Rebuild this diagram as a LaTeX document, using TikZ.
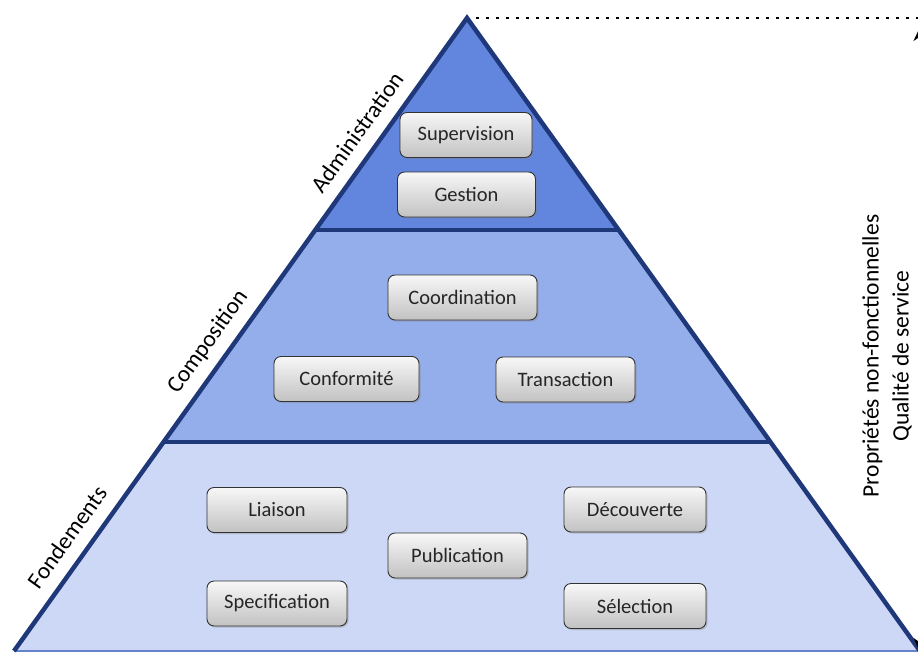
\documentclass[tikz,border=0pt]{standalone}
\usepackage{fontspec}
\setmainfont{Carlito}
\usepackage{xcolor}
\usetikzlibrary{calc,shadows,arrows.meta}

\definecolor{pyredge}{RGB}{31,56,122}
\definecolor{pyrtop}{RGB}{98,133,222}
\definecolor{pyrmid}{RGB}{148,173,235}
\definecolor{pyrbase}{RGB}{204,216,245}
\definecolor{pyrfloor}{RGB}{100,130,205}

\tikzset{
	brick/.style={draw=black!80, line width=0.9pt, rounded corners=7pt, top color=black!3, bottom color=black!24, minimum width=140pt, minimum height=45pt, inner sep=0pt, font=\fontsize{20.5}{24}\selectfont, text=black!85, drop shadow={opacity=0.35, shadow xshift=1.5pt, shadow yshift=-1.5pt}},
	layer/.style={font=\fontsize{23.5}{30}\selectfont, inner sep=0pt},
	side/.style={draw=pyredge, line width=4.5pt}
}

\begin{document}
\begin{tikzpicture}[x=1pt, y=-1pt]
	\useasboundingbox (0,0) rectangle (918,653);
	\coordinate (apex) at (467,18);
	\coordinate (bl) at (14,651);
	\coordinate (br) at (920,651);
	\coordinate (l1) at ($(bl)!0.330!(apex)$);
	\coordinate (r1) at ($(br)!0.330!(apex)$);
	\coordinate (l2) at ($(bl)!0.665!(apex)$);
	\coordinate (r2) at ($(br)!0.665!(apex)$);

	\fill[pyrbase] (bl) -- (br) -- (apex) -- cycle;
	\fill[pyrmid] (l1) -- (r1) -- (apex) -- cycle;
	\fill[pyrtop] (l2) -- (r2) -- (apex) -- cycle;
	\draw[pyrfloor, line width=1.5pt] (bl) -- (br);
	\draw[side] (l1) -- (r1);
	\draw[side] (l2) -- (r2);
	\draw[side] (bl) -- (apex) -- (br);

	\coordinate (dotend) at (918,18);
	\draw[line width=2.6pt, dash pattern=on 2.6pt off 7.4pt] ($(apex)+(9,0)$) -- (dotend);
	\coordinate (qtop) at (920,27);
	\coordinate (qbot) at (920,652);
	\draw[line width=2.5pt, {Stealth[length=14pt,width=13pt]}-{Stealth[length=14pt,width=13pt]}] (qtop) -- (qbot);

	\node[brick, minimum width=132pt] (supervision) at (466,135) {Supervision};
	\node[brick, minimum width=138pt] (gestion) at (466.5,194.5) {Gestion};

	\node[brick, minimum width=149pt] (coordination) at (462.5,297.5) {Coordination};
	\node[brick, minimum width=145pt] (conformite) at (346.5,379) {Conformité};
	\node[brick, minimum width=139pt] (transaction) at (565.5,379.5) {Transaction};

	\node[brick] (liaison) at (277,510) {Liaison};
	\node[brick, minimum width=142pt] (decouverte) at (635,509.5) {Découverte};
	\node[brick, minimum width=139pt] (publication) at (457.5,555.5) {Publication};
	\node[brick] (specification) at (277,603.5) {Specification};
	\node[brick, minimum width=142pt] (selection) at (635,606) {Sélection};

	\node[layer, rotate=54.4] (fondements) at (67,537) {Fondements};
	\node[layer, rotate=54.4] (composition) at (208,342) {Composition};
	\node[layer, rotate=54.4] (administration) at (357,132) {Administration};
	\node[layer, rotate=90, align=center] (qos) at (887,356) {Propriétés non-fonctionnelles\\Qualité de service};
\end{tikzpicture}
\end{document}
